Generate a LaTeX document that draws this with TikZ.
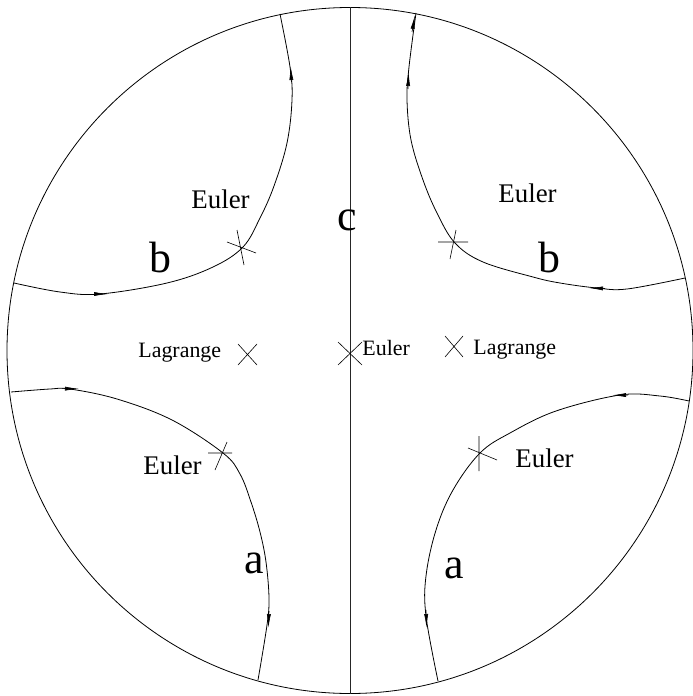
\documentclass[tikz,border=0pt]{standalone}
\usepackage{fontspec}
\setmainfont{Liberation Serif}
\usetikzlibrary{arrows.meta}
\begin{document}
\begin{tikzpicture}[x=1bp,y=-1bp,
  line width=0.8bp,
  orbit/.style={line width=0.8bp},
  crossmark/.style={line width=0.6bp},
  arr/.style={line width=0.6bp,-{Latex[length=14bp,width=4bp]}},
  lbl/.style={inner sep=0,anchor=base west,font=\fontsize{27}{30}\selectfont},
  smalllbl/.style={inner sep=0,anchor=base west,font=\fontsize{22}{26}\selectfont},
  biglbl/.style={inner sep=0,anchor=base,font=\fontsize{44}{48}\selectfont}]
\useasboundingbox (0,0) rectangle (693,696);
% boundary circle and vertical separatrix
\coordinate (O) at (350,350.5);
\draw (O) circle[radius=343];
\coordinate (ctop) at (350,7.5);
\coordinate (cbot) at (350,693.5);
\draw[black!85] (ctop) -- (cbot);
% top-left orbit b
\draw[orbit] plot[smooth,tension=0.6] coordinates {(14,283) (60,292) (100,294) (167,283) (213,267) (243,247) (260,218) (274,186) (287,143) (292,100) (290,67) (280,14)};
% top-right orbit b
\draw[orbit] plot[smooth,tension=0.6] coordinates {(685,278) (627,289) (597,288) (560,283) (533,277) (483,262) (455,243) (437,213) (423,180) (411,140) (407,100) (409,67) (416,13)};
% bottom-left orbit a
\draw[orbit] plot[smooth,tension=0.6] coordinates {(11,392) (50,389) (70,389) (117,399) (172,420) (223,453) (240,474) (251,502) (260,532) (266,562) (269,598) (267,625) (258,680)};
% bottom-right orbit a
\draw[orbit] plot[smooth,tension=0.6] coordinates {(689,401) (660,396) (620,395) (556,411) (510,433) (480,453) (453,490) (436,530) (426,576) (426,616) (438,681)};
% arrowheads
\draw[arr] (291.5,82) -- (290.6,66);
\draw[arr] (92,294) -- (108,294);
\draw[arr] (408,89) -- (408.6,72);
\draw[arr] (412,32) -- (415,15);
\draw[arr] (605,288.5) -- (589,288);
\draw[arr] (62,388.6) -- (79,388.8);
\draw[arr] (269,611) -- (268.4,628);
\draw[arr] (628,395) -- (612,395.3);
\draw[arr] (426,610) -- (426.6,628);
% Euler crosses on the orbits
\draw[crossmark] (227,242) -- (256,253) (237,230) -- (244,265);
\draw[crossmark] (438,242) -- (468,242) (456,230) -- (450,259);
\draw[crossmark] (208,453) -- (232,453) (215,470) -- (227,442);
\draw[crossmark] (479,436) -- (479,471) (468,448) -- (497,460);
% X marks on the axis
\draw[crossmark] (238,344) -- (257,365) (257,344) -- (238,365);
\draw[crossmark] (338,342) -- (362,365) (362,342) -- (338,365);
\draw[crossmark] (445,336) -- (463,357) (463,336) -- (445,357);
% labels
\node[lbl] (eTL) at (191,208) {Euler};
\node[lbl] (eTR) at (498,202) {Euler};
\node[lbl] (eBL) at (143,474) {Euler};
\node[lbl] (eBR) at (515,467) {Euler};
\node[smalllbl] (lagL) at (138,357) {Lagrange};
\node[smalllbl] (eC) at (362,355) {Euler};
\node[smalllbl] (lagR) at (473,354) {Lagrange};
\node[biglbl] (bL) at (160,272) {b};
\node[biglbl] (bR) at (549,272) {b};
\node[biglbl] (cC) at (347,230) {c};
\node[biglbl] (aL) at (254,573) {a};
\node[biglbl] (aR) at (454,578) {a};
\end{tikzpicture}
\end{document}
